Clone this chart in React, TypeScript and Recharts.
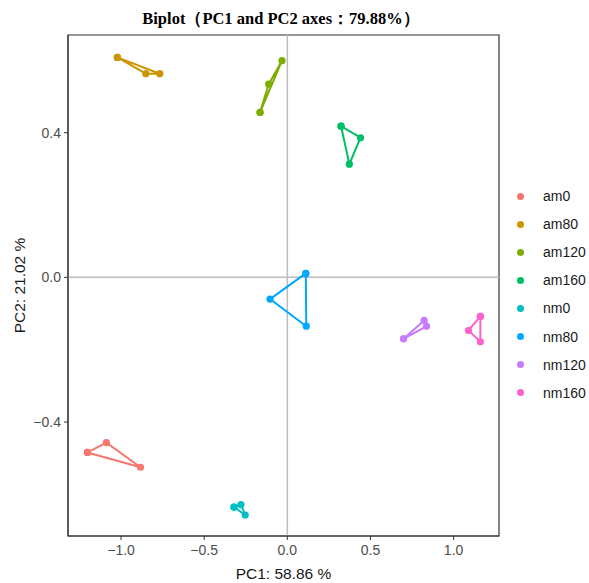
import * as React from "react";
import {
  ScatterChart,
  Scatter,
  XAxis,
  YAxis,
  ReferenceLine,
  ReferenceArea,
} from "recharts";

// groups, colours (ggplot hue palette) and PCA scores
const GROUPS = ["am0", "am80", "am120", "am160", "nm0", "nm80", "nm120", "nm160"];

const COLORS = [
  "#F8766D", "#CD9600", "#7CAE00", "#00BE67",
  "#00BFC4", "#00A9FF", "#C77CFF", "#FF61CC",
];

const PC1 = [
  [-1.202, -1.088, -0.883],
  [-1.022, -0.851, -0.767],
  [-0.164, -0.112, -0.032],
  [0.323, 0.44, 0.373],
  [-0.321, -0.279, -0.253],
  [0.111, -0.104, 0.114],
  [0.699, 0.823, 0.837],
  [1.161, 1.089, 1.161],
];

const PC2 = [
  [-0.484, -0.457, -0.525],
  [0.608, 0.563, 0.563],
  [0.456, 0.534, 0.599],
  [0.418, 0.386, 0.313],
  [-0.635, -0.628, -0.657],
  [0.011, -0.06, -0.135],
  [-0.17, -0.119, -0.135],
  [-0.108, -0.147, -0.178],
];

const X_TICKS = [-1, -0.5, 0, 0.5, 1];
const Y_TICKS = [-0.4, 0, 0.4];
const X_DOMAIN: [number, number] = [-1.319, 1.273];
const Y_DOMAIN: [number, number] = [-0.715, 0.67];

const fmt = (v: number) => {
  const s = Math.abs(v).toFixed(1);
  return v < 0 ? `\u2212${s}` : s;
};

export default function App() {
  // each group: its points in order, then the first one again to close the outline
  const series = GROUPS.map((name, i) => {
    const pts = PC1[i].map((x, j) => ({ x, y: PC2[i][j] }));
    return { name, color: COLORS[i], data: [...pts, pts[0]] };
  });

  return (
    <div
      style={{
        position: "fixed",
        left: 0,
        top: 0,
        width: 589,
        height: 583,
        background: "#fff",
        fontFamily: "Arial, 'Liberation Sans', sans-serif",
      }}
    >
      <div
        style={{
          position: "absolute",
          left: 0,
          width: 562,
          top: 8,
          textAlign: "center",
          fontFamily: "'Times New Roman', 'Liberation Serif', serif",
          fontWeight: "bold",
          fontSize: 16.5,
          color: "#000",
        }}
      >
        Biplot（PC1 and PC2 axes：79.88%）
      </div>

      <ScatterChart
        width={589}
        height={583}
        margin={{ top: 35, right: 90, bottom: 0, left: 0 }}
      >
        <XAxis
          type="number"
          dataKey="x"
          domain={X_DOMAIN}
          ticks={X_TICKS}
          allowDataOverflow
          tickFormatter={fmt}
          height={47}
          stroke="#333"
          tickSize={4}
          tickMargin={5}
          tick={{ fill: "#4d4d4d", fontSize: 14 }}
          label={{
            value: "PC1: 58.86 %",
            position: "insideBottom",
            offset: 4,
            fill: "#1a1a1a",
            fontSize: 15.5,
          }}
        />
        <YAxis
          type="number"
          dataKey="y"
          domain={Y_DOMAIN}
          ticks={Y_TICKS}
          allowDataOverflow
          tickFormatter={fmt}
          width={68}
          stroke="#333"
          tickSize={4}
          tickMargin={3}
          tick={{ fill: "#4d4d4d", fontSize: 14 }}
          label={{
            value: "PC2: 21.02 %",
            angle: -90,
            position: "insideLeft",
            offset: 19,
            style: { textAnchor: "middle" },
            fill: "#1a1a1a",
            fontSize: 15.5,
          }}
        />
        <ReferenceLine x={0} stroke="#bdbdbd" strokeWidth={1.5} />
        <ReferenceLine y={0} stroke="#bdbdbd" strokeWidth={1.5} />
        <ReferenceArea
          x1={X_DOMAIN[0]}
          x2={X_DOMAIN[1]}
          y1={Y_DOMAIN[0]}
          y2={Y_DOMAIN[1]}
          fill="none"
          stroke="#333"
          strokeWidth={1.2}
          fillOpacity={0}
        />
        {series.map((s) => (
          <Scatter
            key={s.name}
            name={s.name}
            data={s.data}
            fill={s.color}
            line={{ stroke: s.color, strokeWidth: 2 }}
            isAnimationActive={false}
            shape={(p: any) => (
              <circle cx={p.cx} cy={p.cy} r={3.6} fill={s.color} />
            )}
          />
        ))}
      </ScatterChart>

      <div style={{ position: "absolute", left: 514, top: 182 }}>
        {series.map((s) => (
          <div
            key={s.name}
            style={{ display: "flex", alignItems: "center", height: 28.1 }}
          >
            <span
              style={{
                display: "inline-block",
                width: 7,
                height: 7,
                borderRadius: "50%",
                background: s.color,
                marginLeft: 3,
                marginRight: 19,
              }}
            />
            <span style={{ fontSize: 14, color: "#1a1a1a" }}>{s.name}</span>
          </div>
        ))}
      </div>
    </div>
  );
}
